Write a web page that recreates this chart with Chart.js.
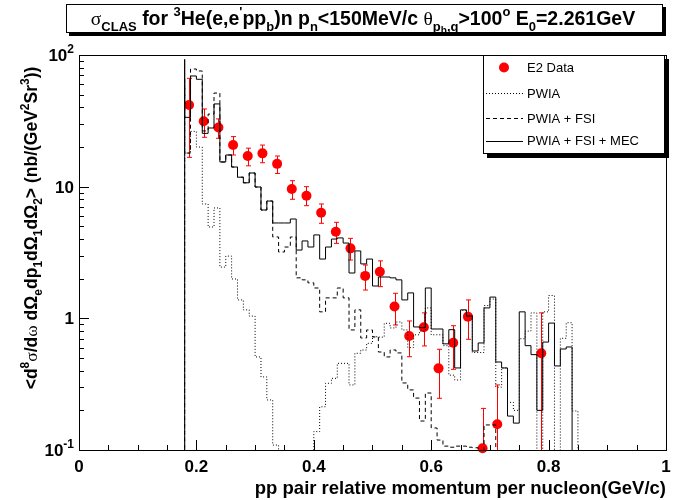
<!DOCTYPE html>
<html>
<head>
<meta charset="utf-8">
<script src="https://cdn.jsdelivr.net/npm/chart.js@4.4.1/dist/chart.umd.min.js"></script>
<style>
  body { margin: 0; background: #fff; }
</style>
</head>
<body>
<canvas id="chart" width="680" height="500"></canvas>
<script>
// histogram bins: lower edges (GeV/c), each bin 0.01 wide
const binEdges = [0.18, 0.19, 0.20, 0.21, 0.22, 0.23, 0.24, 0.25, 0.26, 0.27,
                  0.28, 0.29, 0.30, 0.31, 0.32, 0.33, 0.34, 0.35, 0.36, 0.37,
                  0.38, 0.39, 0.40, 0.41, 0.42, 0.43, 0.44, 0.45, 0.46, 0.47,
                  0.48, 0.49, 0.50, 0.51, 0.52, 0.53, 0.54, 0.55, 0.56, 0.57,
                  0.58, 0.59, 0.60, 0.61, 0.62, 0.63, 0.64, 0.65, 0.66, 0.67,
                  0.68, 0.69, 0.70, 0.71, 0.72, 0.73, 0.74, 0.75, 0.76, 0.77,
                  0.78, 0.79, 0.80, 0.81, 0.82, 0.83, 0.84, 0.85];
const lastEdge = 0.86;
const emptyBin = 0.01;  // below the axis minimum, i.e. nothing visible

// PWIA (dotted)
const pwia = [60, 18.0, 26.3, 20.0, 7.39, 4.94, 6.89, 2.45, 2.97, 1.99,
              1.38, 1.16, 1.04, 0.509, 0.359, 0.240, 0.109, 0.01, 0.01, 0.01,
              0.01, 0.01, 0.01, 0.138, 0.213, 0.321, 0.350, 0.455, 0.455, 0.312,
              0.543, 0.575, 0.646, 0.725, 0.72, 0.917, 0.845, 0.938, 0.816, 0.60,
              0.75, 0.80, 1.20, 0.75, 0.75, 0.62, 0.37, 0.34, 1.15, 1.05,
              0.55, 0.55, 1.25, 1.40, 0.30, 0.42, 0.23, 0.20, 0.70, 0.80,
              1.10, 0.01, 1.12, 1.49, 0.01, 0.705, 0.926, 0.198];
// PWIA + FSI (dashed)
const pwiaFsi = [66.9, 18.0, 78.3, 75.6, 26.5, 35.6, 51.4, 15.4, 17.4, 14.1,
                 11.8, 10.7, 12.7, 9.94, 6.65, 7.78, 4.15, 3.19, 3.48, 4.15,
                 2.03, 1.96, 1.86, 1.70, 1.12, 1.43, 1.43, 1.70, 1.43, 0.816,
                 1.16, 0.709, 0.816, 0.722, 0.555, 0.509, 0.575, 0.546, 0.323, 0.286,
                 0.248, 0.166, 0.271, 0.147, 0.119, 0.107, 0.105, 0.107, 0.107, 0.105,
                 0.104, 0.01, 0.155, 0.155, 0.01, 0.01, 0.01, 0.01, 0.01, 0.01,
                 0.01, 0.01, 0.01, 0.01, 0.01, 0.01, 0.01, 0.01];
// PWIA + FSI + MEC (solid)
const pwiaFsiMec = [92.7, 33.6, 69.3, 65.4, 25.4, 27.9, 42.5, 15.4, 17.4, 14.1,
                    11.8, 10.7, 12.7, 9.94, 6.65, 7.78, 5.30, 5.30, 5.30, 5.68,
                    3.30, 3.87, 3.48, 4.30, 2.82, 3.48, 4.00, 4.08, 3.73, 2.21,
                    3.25, 2.59, 2.82, 1.76, 2.06, 2.06, 2.03, 1.96, 1.38, 1.56,
                    0.86, 0.85, 1.70, 0.83, 0.83, 0.64, 0.82, 0.42, 1.16, 1.04,
                    0.565, 0.65, 1.20, 1.45, 0.466, 0.42, 0.181, 0.160, 1.12, 0.62,
                    0.53, 0.20, 0.66, 0.92, 0.435, 0.585, 0.606, 0.01];

// E2 data points with error bars
const dataX = [0.1875, 0.2125, 0.2375, 0.2625, 0.2875, 0.3125, 0.3375, 0.3625,
               0.3875, 0.4125, 0.4375, 0.4625, 0.4875, 0.5125, 0.5375, 0.5625,
               0.5875, 0.6125, 0.6375, 0.6625, 0.6875, 0.7125, 0.7875];
const dataY = [41.7, 31.4, 28.1, 20.7, 17.1, 17.9, 14.9, 9.60,
               8.54, 6.34, 4.55, 3.40, 2.10, 2.26, 1.23, 0.734,
               0.855, 0.417, 0.653, 1.03, 0.103, 0.157, 0.543];
const dataHi = [66.5, 38.9, 32.7, 24.0, 19.6, 20.7, 17.1, 11.1,
                10.0, 7.39, 5.36, 4.05, 2.54, 2.73, 1.55, 0.955,
                1.10, 0.582, 0.879, 1.38, 0.207, 0.312, 1.10];
const dataLo = [16.7, 23.7, 23.3, 17.4, 14.4, 15.2, 12.6, 8.02,
                7.17, 5.27, 3.71, 2.77, 1.64, 1.74, 0.890, 0.511,
                0.617, 0.247, 0.410, 0.693, 0.01, 0.01, 0.01];

const xTickMajor = [0, 0.2, 0.4, 0.6, 0.8, 1];
const xTickLabels = ['0', '0.2', '0.4', '0.6', '0.8', '1'];
const yDecades = [0.1, 1, 10, 100];

// turn a histogram into a stepped outline, starting and ending at the floor
function histPoints(values) {
  const pts = [{ x: binEdges[0], y: emptyBin }];
  values.forEach((v, i) => pts.push({ x: binEdges[i], y: v }));
  pts.push({ x: lastEdge, y: emptyBin });
  return pts;
}

const SANS = '"Liberation Sans", Arial, sans-serif';
const GREEK = '"Liberation Serif", "Times New Roman", serif';

// text made of runs: [text, kind]; kind n=normal, g=greek, b=sub, p=sup, bb=subsub
function runFont(kind, size) {
  if (kind === 'g') return size + 'px ' + GREEK;
  if (kind === 'b' || kind === 'p') return 'bold ' + Math.round(size * 0.68) + 'px ' + SANS;
  if (kind === 'bb') return 'bold ' + Math.round(size * 0.5) + 'px ' + SANS;
  return 'bold ' + size + 'px ' + SANS;
}
function richWidth(ctx, runs, size) {
  let w = 0;
  runs.forEach(r => { ctx.font = runFont(r[1], size); w += ctx.measureText(r[0]).width; });
  return w;
}
function drawRich(ctx, runs, x, y, size, align) {
  const w = richWidth(ctx, runs, size);
  let cx = align === 'center' ? x - w / 2 : align === 'right' ? x - w : x;
  ctx.textBaseline = 'alphabetic';
  ctx.textAlign = 'left';
  runs.forEach(r => {
    const k = r[1];
    let dy = 0;
    if (k === 'b') dy = size * 0.3;
    if (k === 'bb') dy = size * 0.45;
    if (k === 'p') dy = -size * 0.45;
    ctx.font = runFont(k, size);
    ctx.fillText(r[0], cx, y + dy);
    cx += ctx.measureText(r[0]).width;
  });
}

const titleRuns = [['σ', 'g'], ['CLAS', 'b'], [' for ', 'n'], ['3', 'p'], ['He(e,e', 'n'], ["'", 'p'],
  ['pp', 'n'], ['b', 'b'], [')n p', 'n'], ['n', 'b'], ['<150MeV/c ', 'n'], ['θ', 'g'], ['p', 'b'],
  ['b', 'bb'], [',q', 'b'], ['>100', 'n'], ['o', 'p'], [' E', 'n'], ['0', 'b'], ['=2.261GeV', 'n']];
const yTitleRuns = [['<d', 'n'], ['8', 'p'], ['σ', 'g'], ['/d', 'n'], ['ω', 'g'], [' dΩ', 'n'], ['e', 'b'],
  ['dp', 'n'], ['1', 'b'], ['dΩ', 'n'], ['1', 'b'], ['dΩ', 'n'], ['2', 'b'], ['> (nb/(GeV', 'n'],
  ['2', 'p'], ['Sr', 'n'], ['3', 'p'], ['))', 'n']];
const xTitle = 'pp pair relative momentum per nucleon(GeV/c)';
const legendItems = [
  { label: 'E2 Data', kind: 'marker' },
  { label: 'PWIA', dash: [1, 2] },
  { label: 'PWIA + FSI', dash: [4, 3] },
  { label: 'PWIA + FSI + MEC', dash: [] }
];

function drawErrorBars(chart) {
  const ctx = chart.ctx, xs = chart.scales.x, ys = chart.scales.y, area = chart.chartArea;
  ctx.save();
  ctx.strokeStyle = '#ff0000';
  ctx.lineWidth = 1;
  dataX.forEach((xv, i) => {
    const px = Math.round(xs.getPixelForValue(xv)) + 0.5;
    const top = ys.getPixelForValue(dataHi[i]);
    const bot = ys.getPixelForValue(dataLo[i]);
    const t = Math.max(top, area.top), b = Math.min(bot, area.bottom);
    ctx.beginPath();
    ctx.moveTo(px, t); ctx.lineTo(px, b);
    if (top >= area.top) { ctx.moveTo(px - 2.5, top); ctx.lineTo(px + 2.5, top); }
    if (bot <= area.bottom) { ctx.moveTo(px - 2.5, bot); ctx.lineTo(px + 2.5, bot); }
    ctx.stroke();
  });
  ctx.restore();
}

const rootStyle = {
  id: 'rootStyle',
  beforeDatasetDraw(chart, args) {
    if (args.index === 3) drawErrorBars(chart);
  },
  afterDraw(chart) {
    const ctx = chart.ctx, xs = chart.scales.x, ys = chart.scales.y, a = chart.chartArea;
    ctx.save();
    ctx.fillStyle = '#000';
    ctx.strokeStyle = '#000';
    ctx.lineWidth = 1;

    // frame
    ctx.strokeRect(Math.round(a.left) + 0.5, Math.round(a.top) + 0.5,
                   Math.round(a.right - a.left), Math.round(a.bottom - a.top));

    // x ticks, inside the frame
    ctx.beginPath();
    for (let v = 0; v <= 1.0001; v += 0.05) {
      const px = Math.round(xs.getPixelForValue(v)) + 0.5;
      const major = Math.abs(v / 0.2 - Math.round(v / 0.2)) < 1e-6;
      ctx.moveTo(px, a.bottom); ctx.lineTo(px, a.bottom - (major ? 10 : 5));
    }
    // y ticks
    yDecades.forEach((d, k) => {
      const py = Math.round(ys.getPixelForValue(d)) + 0.5;
      ctx.moveTo(a.left, py); ctx.lineTo(a.left + 10, py);
      if (k < yDecades.length - 1) {
        for (let m = 2; m <= 9; m++) {
          const pm = Math.round(ys.getPixelForValue(d * m)) + 0.5;
          ctx.moveTo(a.left, pm); ctx.lineTo(a.left + 5, pm);
        }
      }
    });
    ctx.stroke();

    // x tick labels
    ctx.textAlign = 'center';
    ctx.textBaseline = 'alphabetic';
    ctx.font = 'bold 17px ' + SANS;
    xTickMajor.forEach((v, i) => ctx.fillText(xTickLabels[i], xs.getPixelForValue(v), a.bottom + 22));

    // y tick labels
    const yLab = {
      0.1: [['10', 'n'], ['-1', 'p']],
      1: [['1', 'n']],
      10: [['10', 'n']],
      100: [['10', 'n'], ['2', 'p']]
    };
    yDecades.forEach(d => {
      drawRich(ctx, yLab[d], a.left - 5, ys.getPixelForValue(d) + 6, 17, 'right');
    });

    // axis titles
    ctx.font = 'bold 18.5px ' + SANS;
    ctx.textAlign = 'right';
    ctx.fillText(xTitle, a.right, 494);
    ctx.save();
    ctx.translate(37, 228);
    ctx.rotate(-Math.PI / 2);
    drawRich(ctx, yTitleRuns, 0, 0, 17.5, 'center');
    ctx.restore();

    // title pave with shadow
    ctx.fillRect(69, 7, 597, 29);
    ctx.fillStyle = '#fff';
    ctx.fillRect(66, 4, 597, 29);
    ctx.strokeRect(66.5, 4.5, 596, 28);
    ctx.fillStyle = '#000';
    drawRich(ctx, titleRuns, 363, 25, 19.5, 'center');

    // legend with shadow
    const lx = 483, ly = 55, lw = 182, lh = 99;
    ctx.fillRect(lx + 4, ly + 4, lw, lh);
    ctx.fillStyle = '#fff';
    ctx.fillRect(lx, ly, lw, lh);
    ctx.strokeRect(lx + 0.5, ly + 0.5, lw - 1, lh - 1);
    ctx.textAlign = 'left';
    ctx.textBaseline = 'middle';
    const rowsY = [67.5, 93, 118, 140.5];
    legendItems.forEach((it, i) => {
      const y = rowsY[i];
      if (it.kind === 'marker') {
        ctx.fillStyle = '#ff0000';
        ctx.beginPath(); ctx.arc(504, y, 5, 0, Math.PI * 2); ctx.fill();
      } else {
        ctx.strokeStyle = '#000';
        ctx.setLineDash(it.dash);
        ctx.beginPath(); ctx.moveTo(486, Math.round(y) + 0.5); ctx.lineTo(523, Math.round(y) + 0.5); ctx.stroke();
        ctx.setLineDash([]);
      }
      ctx.fillStyle = '#000';
      ctx.font = '13px ' + SANS;
      ctx.fillText(it.label, 527, y + 1);
    });
    ctx.restore();
  }
};

const histStyle = { stepped: 'after', borderWidth: 1, pointRadius: 0, fill: false, tension: 0 };

new Chart(document.getElementById('chart'), {
  type: 'line',
  data: {
    datasets: [
      Object.assign({ label: 'PWIA', data: histPoints(pwia), borderColor: '#000', borderDash: [1, 2] }, histStyle),
      Object.assign({ label: 'PWIA + FSI', data: histPoints(pwiaFsi), borderColor: '#000', borderDash: [4, 3] }, histStyle),
      Object.assign({ label: 'PWIA + FSI + MEC', data: histPoints(pwiaFsiMec), borderColor: '#000' }, histStyle),
      {
        type: 'scatter',
        label: 'E2 Data',
        data: dataX.map((x, i) => ({ x: x, y: dataY[i] })),
        backgroundColor: '#ff0000',
        borderWidth: 0,
        pointRadius: 5,
        showLine: false,
        clip: false
      }
    ]
  },
  options: {
    responsive: false,
    animation: false,
    events: [],
    layout: { padding: { left: 79, right: 14, top: 55, bottom: 50 } },
    plugins: { legend: { display: false }, tooltip: { enabled: false } },
    scales: {
      x: { type: 'linear', min: 0, max: 1, display: false },
      y: { type: 'logarithmic', min: 0.1, max: 100, display: false }
    }
  },
  plugins: [rootStyle]
});
</script>
</body>
</html>
